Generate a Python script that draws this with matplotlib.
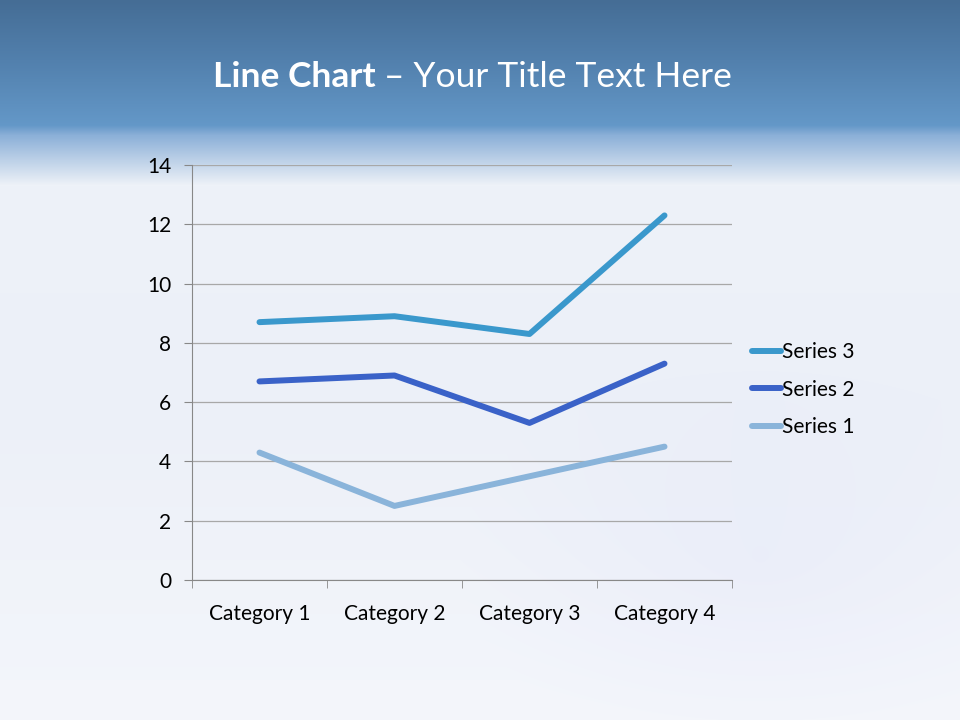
import numpy as np
import matplotlib
matplotlib.use('Agg')
import matplotlib.pyplot as plt

categories = ['Category 1', 'Category 2', 'Category 3', 'Category 4']
series_1 = [4.3, 2.5, 3.5, 4.5]
series_2 = [6.7, 6.9, 5.3, 7.3]
series_3 = [8.7, 8.9, 8.3, 12.3]
y_ticks = [0, 2, 4, 6, 8, 10, 12, 14]

plt.rcParams['font.family'] = ['Lato', 'DejaVu Sans']

fig = plt.figure(figsize=(9.6, 7.2), dpi=100)

# slide background: blue header band fading into pale blue-white
h, w = 720, 960
rows = np.arange(h)
stops_y = [0, 60, 125, 135, 185, 400, 720]
stops_c = np.array([
    [0x45, 0x6d, 0x95],
    [0x52, 0x80, 0xad],
    [0x64, 0x98, 0xc8],
    [0x8c, 0xb0, 0xd8],
    [0xee, 0xf2, 0xf8],
    [0xec, 0xf0, 0xf8],
    [0xf4, 0xf6, 0xfb],
]) / 255.0
col = np.stack([np.interp(rows, stops_y, stops_c[:, k]) for k in range(3)], axis=1)
bg = np.repeat(col[:, None, :], w, axis=1)
# faint lavender tint toward the lower right
yy, xx = np.mgrid[0:h, 0:w]
tint = np.clip(1 - np.hypot((xx - 760) / 300, (yy - 560) / 200), 0, 1) * 0.08
tint *= (yy > 150)
bg = bg - tint[..., None] * np.array([0.25, 0.25, 0.0])
bg_ax = fig.add_axes([0, 0, 1, 1])
bg_ax.imshow(np.clip(bg, 0, 1), aspect='auto', extent=[0, 1, 0, 1])
bg_ax.axis('off')

# title, bold part and regular part
fig.text(0.391, 0.893, 'Line Chart', color='white', fontsize=25.5,
         fontweight='bold', ha='right', va='center')
fig.text(0.391, 0.893, ' \u2013 Your Title Text Here', color='white', fontsize=25.5,
         ha='left', va='center')

ax = fig.add_axes([0.2, 0.1944, 0.5625, 0.5764])
ax.patch.set_alpha(0)
x = np.arange(1, len(categories) + 1)
ax.plot(x, series_3, color='#3a98cc', lw=4.3, solid_capstyle='round', label='Series 3', zorder=3)
ax.plot(x, series_2, color='#3a62c8', lw=4.3, solid_capstyle='round', label='Series 2', zorder=3)
ax.plot(x, series_1, color='#8ab4da', lw=4.3, solid_capstyle='round', label='Series 1', zorder=3)

ax.set_xlim(0.5, len(categories) + 0.5)
ax.set_ylim(0, 14)
ax.set_yticks(y_ticks)
ax.set_xticks(x)
ax.set_xticklabels(categories)
ax.set_xticks(np.arange(0.5, len(categories) + 1), minor=True)
ax.tick_params(axis='x', which='major', length=0, pad=17, labelsize=15)
ax.tick_params(axis='x', which='minor', length=6, color='#888888', direction='out')
ax.tick_params(axis='y', length=6, color='#888888', pad=9, labelsize=15)
ax.grid(axis='y', color='#a8a8a8', lw=0.9)
ax.set_axisbelow(True)
for s in ['top', 'right']:
    ax.spines[s].set_visible(False)
for s in ['left', 'bottom']:
    ax.spines[s].set_color('#888888')

leg = ax.legend(loc='center left', bbox_to_anchor=(0.764, 0.459), bbox_transform=fig.transFigure,
                frameon=False, fontsize=15, handlelength=1.4, handletextpad=0.05,
                labelspacing=0.85)

fig.savefig('out.png', dpi=100)
